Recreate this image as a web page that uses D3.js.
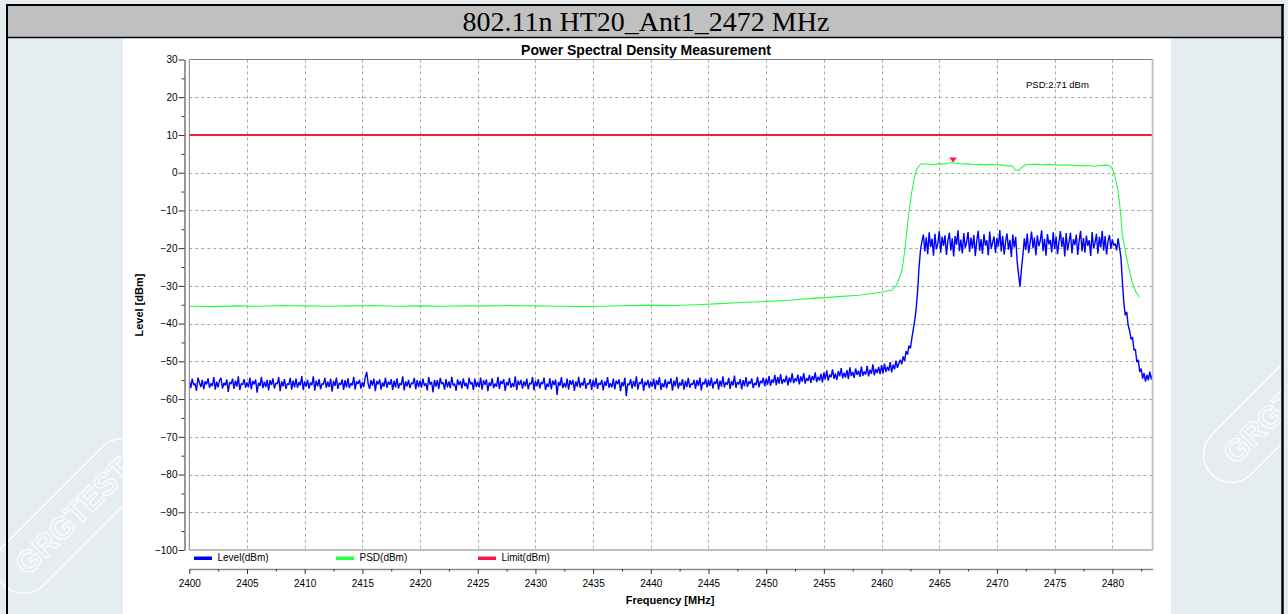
<!DOCTYPE html>
<html>
<head>
<meta charset="utf-8">
<script src="https://cdn.jsdelivr.net/npm/d3@7"></script>
<style>
  html, body { margin: 0; padding: 0; background: #e5edf0; }
  svg { display: block; }
  text { font-family: "Liberation Sans", Arial, sans-serif; }
</style>
</head>
<body>
<div id="chart"></div>
<script>
// ---------------- data ----------------
const headerTitle = "802.11n HT20_Ant1_2472 MHz";
const chartTitle = "Power Spectral Density Measurement";
const xLabel = "Frequency [MHz]";
const yLabel = "Level [dBm]";

const xTickValues = [2400,2405,2410,2415,2420,2425,2430,2435,2440,2445,2450,2455,2460,2465,2470,2475,2480];
const yTickValues = [-100,-90,-80,-70,-60,-50,-40,-30,-20,-10,0,10,20,30];
const xDomain = [2400, 2483.5];
const yDomain = [-100, 30];

const seriesNames = ["Level(dBm)", "PSD(dBm)", "Limit(dBm)"];
const seriesColors = ["#0000ff", "#22ff44", "#ff1446"];

// Level trace (blue): sampled every 0.125 MHz starting at 2400 MHz (one row = 5 MHz)
const levelStart = 2400;
const levelStep = 0.125;
const levelValues = [
  -55.2,-57.1,-54.6,-56.3,-55.9,-57.8,-54.3,-55.6,-56.8,-54.9,-57.4,-55.3,-56.1,-54.5,-57.0,-55.8,-56.6,-54.2,-57.5,-55.4,-56.9,-55.0,-54.4,-57.2,-55.7,-56.4,-54.8,-58.1,-55.5,-56.0,-54.6,-57.3,-55.1,-56.7,-54.0,-57.6,-55.9,-56.2,-54.7,-57.0,
  -55.6,-56.9,-54.3,-57.4,-55.2,-56.1,-54.8,-58.3,-55.7,-56.5,-54.1,-57.1,-55.4,-56.8,-54.9,-57.7,-55.0,-56.3,-54.5,-57.2,-55.8,-56.0,-54.2,-57.9,-55.3,-56.6,-54.7,-57.3,-55.9,-56.2,-54.4,-57.5,-55.1,-56.9,-54.6,-57.0,-55.5,-56.4,-53.9,-57.6,
  -55.3,-56.7,-54.9,-57.2,-55.6,-56.3,-54.0,-57.8,-55.1,-56.6,-54.7,-57.4,-55.9,-56.1,-54.4,-57.0,-55.4,-56.8,-54.6,-58.0,-55.2,-56.5,-54.3,-57.3,-55.7,-56.2,-54.8,-57.6,-55.0,-56.9,-54.5,-57.1,-55.8,-56.4,-54.1,-57.5,-55.3,-56.0,-54.9,-57.2,
  -55.5,-56.8,-54.2,-52.8,-55.9,-57.3,-55.0,-56.4,-54.6,-57.9,-55.2,-56.1,-54.8,-57.5,-55.6,-56.7,-54.3,-57.0,-55.4,-56.2,-54.7,-57.6,-55.1,-56.9,-54.5,-57.2,-55.8,-56.3,-54.0,-57.7,-55.3,-56.6,-54.9,-57.1,-55.7,-56.0,-54.4,-57.4,-55.0,-56.8,
  -55.1,-57.0,-54.6,-56.5,-55.8,-57.7,-54.2,-56.2,-55.4,-58.2,-54.9,-56.7,-55.0,-57.3,-54.4,-56.0,-55.6,-57.5,-54.7,-56.9,-55.3,-57.1,-54.1,-56.4,-55.9,-57.8,-54.8,-56.3,-55.2,-57.2,-54.5,-56.6,-55.7,-57.4,-54.3,-56.1,-55.5,-57.6,-54.6,-56.8,
  -55.4,-56.9,-54.3,-57.5,-55.0,-56.2,-54.8,-57.9,-55.6,-56.5,-54.5,-57.1,-55.9,-56.7,-54.1,-57.3,-55.2,-56.0,-54.7,-57.8,-55.5,-56.4,-54.4,-57.0,-55.8,-56.8,-54.0,-57.6,-55.1,-56.3,-54.9,-57.2,-55.3,-56.6,-54.6,-57.4,-55.7,-56.1,-54.2,-57.7,
  -55.2,-56.6,-54.7,-57.2,-55.5,-56.0,-54.3,-57.6,-55.9,-56.8,-54.5,-57.4,-55.1,-56.3,-54.8,-58.9,-55.4,-56.5,-54.2,-57.1,-55.7,-56.9,-54.6,-57.5,-55.0,-56.2,-54.9,-57.8,-55.3,-56.7,-54.1,-57.0,-55.6,-56.4,-54.4,-57.3,-55.8,-56.1,-54.7,-57.6,
  -55.0,-56.8,-54.4,-57.3,-55.7,-56.2,-54.9,-57.7,-55.3,-56.5,-54.2,-57.0,-55.8,-56.9,-54.6,-57.4,-55.1,-56.1,-54.8,-57.9,-55.5,-56.6,-54.3,-59.2,-55.9,-56.3,-54.7,-57.2,-55.2,-56.7,-54.0,-57.5,-55.6,-56.0,-54.5,-57.8,-55.4,-56.4,-54.9,-57.1,
  -55.3,-56.7,-54.6,-57.4,-55.0,-56.3,-54.2,-57.6,-55.8,-56.9,-54.8,-57.1,-55.4,-56.0,-54.5,-57.8,-55.1,-56.6,-54.1,-57.2,-55.6,-56.4,-54.7,-57.5,-55.2,-56.8,-54.4,-57.0,-55.9,-56.2,-54.9,-57.3,-55.0,-56.5,-54.3,-57.7,-55.5,-56.1,-54.6,-56.9,
  -55.0,-56.5,-54.3,-57.2,-55.4,-56.0,-54.6,-57.5,-55.1,-56.7,-54.0,-56.9,-55.6,-56.2,-54.4,-57.3,-55.2,-56.4,-53.8,-57.0,-55.5,-56.1,-54.7,-57.4,-55.0,-56.6,-54.2,-56.8,-55.3,-56.0,-54.5,-57.1,-55.7,-56.3,-54.1,-56.9,-55.2,-55.8,-54.3,-56.6,
  -54.6,-56.2,-53.9,-56.5,-54.8,-55.7,-53.6,-56.3,-54.2,-55.9,-53.4,-56.0,-54.7,-55.5,-53.8,-56.4,-54.3,-55.6,-53.2,-55.8,-54.5,-55.3,-53.5,-56.1,-54.0,-55.4,-53.1,-55.9,-54.4,-55.2,-53.6,-55.7,-53.9,-55.0,-52.9,-55.5,-54.1,-55.1,-53.3,-55.6,
  -53.0,-54.8,-52.4,-55.1,-53.5,-54.2,-52.1,-54.6,-53.2,-54.9,-52.6,-54.0,-51.8,-54.5,-53.0,-54.3,-52.3,-54.7,-51.6,-53.9,-52.8,-54.4,-51.9,-53.6,-52.5,-54.1,-51.4,-53.8,-52.7,-53.5,-51.2,-54.0,-52.2,-53.3,-50.8,-53.7,-52.0,-53.1,-51.5,-53.4,
  -51.0,-53.2,-50.6,-52.8,-51.4,-52.5,-50.2,-52.9,-50.9,-52.1,-49.8,-51.7,-50.5,
  -49.6,-50.8,-48.7,-49.9,-47.3,-48.2,-45.8,-46.6,-43.9,-41.5,-39.2,-36.0,-31.5,-25.0,-20.5,
  -18.2,-16.4,-20.9,-17.1,-21.6,-15.8,-19.7,-17.5,-22.0,-16.2,-20.3,-18.8,-15.5,-21.2,-17.0,-19.4,-16.6,-21.8,-18.1,-15.9,
  -20.6,-17.4,-22.2,-16.8,-19.1,-15.3,-20.8,-17.7,-21.4,-16.0,-19.9,-18.4,-15.7,-21.0,-17.2,-20.1,-16.5,-22.1,-18.0,-15.4,
  -20.7,-17.6,-21.5,-16.3,-19.3,-17.9,-21.9,-15.6,-20.2,-18.5,-16.9,-21.3,-17.3,-19.6,-15.2,-20.9,-16.7,-21.7,-18.3,-16.1,
  -20.4,-17.8,-22.3,-16.4,-19.8,-17.0,
  -23.5,-27.0,-30.2,-25.5,-21.8,
  -17.4,-20.5,-16.1,-21.3,-18.6,-15.6,-20.0,-17.2,-21.9,-16.6,-19.5,-18.1,-15.3,-20.8,-17.5,-22.0,-16.3,-19.0,-17.8,-21.1,
  -15.8,-20.3,-16.9,-21.6,-18.4,-15.5,-19.7,-17.1,-22.2,-16.0,-20.6,-18.3,-15.9,-21.4,-17.6,-19.2,-16.4,-21.8,-18.0,-15.4,
  -20.9,-17.3,-21.2,-16.7,-19.4,-17.9,-22.1,-15.7,-20.1,-18.6,-16.2,-21.5,-17.0,-19.8,-15.5,-20.7,-16.8,-21.7,-18.2,-16.5,
  -20.2,-17.7,-19.3,-18.8,-20.6,-17.4,-19.9,
  -22.5,-29.0,-34.5,-37.8,-36.9,-40.5,-41.9,-44.2,-43.6,-47.0,-46.8,-50.2,-49.6,-52.8,-51.9,-54.6,-53.1,-55.4,-53.6,-55.0,-52.7,-54.8,-53.5
];

// PSD trace (green)
const psdFreq = [2400,2402,2404,2406,2408,2410,2412,2414,2416,2418,2420,2422,2424,2426,2428,2430,2432,2434,2436,2438,2440,2442,2444,2446,2448,2450,2452,2454,2456,2458,2460,
  2460.9,2461.25,2461.5,2461.77,2462.0,2462.2,2462.4,2462.6,2462.8,2463.0,2463.4,
  2464,2464.5,2465,2465.5,2466,2466.5,2467,2467.5,2468,2468.5,2469,2469.5,2470,2470.5,2471,
  2471.3,2471.6,2471.9,2472.2,2472.5,
  2473,2473.5,2474,2474.5,2475,2475.5,2476,2476.5,2477,2477.5,2478,2478.5,2479,2479.5,
  2479.8,2480.0,2480.2,2480.45,2480.6,2480.75,2480.85,2481.15,2481.45,2481.75,2482.05,2482.32];
const psdValues = [-35.4,-35.5,-35.3,-35.4,-35.2,-35.3,-35.4,-35.3,-35.2,-35.4,-35.3,-35.4,-35.3,-35.3,-35.2,-35.3,-35.4,-35.5,-35.4,-35.2,-35.1,-35.2,-35.0,-34.7,-34.4,-34.1,-33.8,-33.3,-32.9,-32.5,-31.7,
  -31.1,-30.0,-28.3,-25.8,-21.0,-15.2,-9.9,-5.5,-2.0,0.7,2.3,
  2.3,2.1,2.4,2.3,2.7,2.5,2.3,2.4,2.1,2.2,2.0,2.2,2.1,2.0,1.8,
  1.9,0.7,0.6,1.5,2.1,
  2.2,2.2,2.1,2.2,2.1,2.0,2.1,2.0,1.9,1.8,1.9,1.7,1.9,2.0,
  1.8,1.0,-0.8,-4.0,-7.2,-12.0,-16.0,-21.4,-25.5,-29.3,-31.6,-32.9];

const limitValue = 10;
const markerFreq = 2466.2;
const markerValue = 2.71;
const markerLabel = "PSD:2.71 dBm";
const watermarkText = "GRGTEST";

// ---------------- drawing ----------------
const W = 1288, H = 614;
const svg = d3.select("#chart").append("svg").attr("width", W).attr("height", H);

// background
svg.append("rect").attr("x", 0).attr("y", 0).attr("width", W).attr("height", H).attr("fill", "#e5edf0");

// watermarks (clipped by the page like in the scanned report)
svg.append("clipPath").attr("id", "pageclip").append("rect").attr("x", 0).attr("y", 0).attr("width", 1282).attr("height", H);
function watermark(cx, cy) {
  const g = svg.append("g").attr("clip-path", "url(#pageclip)")
    .append("g").attr("transform", `translate(${cx},${cy}) rotate(-45)`);
  g.append("rect").attr("x", -98).attr("y", -28).attr("width", 196).attr("height", 56).attr("rx", 28)
    .attr("fill", "none").attr("stroke", "#ffffff").attr("stroke-width", 1.3);
  g.append("text").attr("x", 0).attr("y", 11).attr("text-anchor", "middle")
    .style("font-size", "31px").style("font-weight", "bold")
    .attr("fill", "none").attr("stroke", "#ffffff").attr("stroke-width", 1.1)
    .text(watermarkText);
}
watermark(73, 516);
watermark(1281, 405);

// table header
svg.append("rect").attr("x", 7).attr("y", 5).attr("width", 1275).attr("height", 32).attr("fill", "#c0c0c0");
svg.append("text").attr("x", 646).attr("y", 30.5).attr("text-anchor", "middle")
  .style("font-family", "'Liberation Serif','Times New Roman',serif").style("font-size", "28px")
  .attr("fill", "#000").text(headerTitle);

// white chart area
svg.append("rect").attr("x", 123).attr("y", 38).attr("width", 1048).attr("height", H - 38).attr("fill", "#ffffff");

// table borders
svg.append("line").attr("x1", 6).attr("x2", 1284).attr("y1", 5).attr("y2", 5).attr("stroke", "#000").attr("stroke-width", 2);
svg.append("line").attr("x1", 6).attr("x2", 1284).attr("y1", 37.5).attr("y2", 37.5).attr("stroke", "#000").attr("stroke-width", 1.6);
svg.append("line").attr("x1", 7).attr("x2", 7).attr("y1", 4).attr("y2", H).attr("stroke", "#000").attr("stroke-width", 2);
svg.append("line").attr("x1", 1282.5).attr("x2", 1282.5).attr("y1", 4).attr("y2", H).attr("stroke", "#000").attr("stroke-width", 2.5);

// scales
const plotL = 189.3, plotR = 1152.7, plotT = 59.5, plotB = 550;
const x = d3.scaleLinear().domain(xDomain).range([plotL, plotR]);
const y = d3.scaleLinear().domain(yDomain).range([plotB, plotT]);

// title
svg.append("text").attr("x", 646).attr("y", 55).attr("text-anchor", "middle")
  .style("font-size", "14px").style("font-weight", "bold").attr("fill", "#000").text(chartTitle);

// grid
const grid = svg.append("g").attr("stroke", "#a8a8a8").attr("stroke-width", 1).attr("stroke-dasharray", "3,3");
grid.selectAll("line.h").data(yTickValues.filter(v => v > yDomain[0] && v < yDomain[1])).join("line")
  .attr("x1", plotL).attr("x2", plotR).attr("y1", d => Math.round(y(d)) + 0.5).attr("y2", d => Math.round(y(d)) + 0.5);
grid.selectAll("line.v").data(xTickValues.filter(v => v > xDomain[0] && v < xDomain[1])).join("line")
  .attr("y1", plotT).attr("y2", plotB).attr("x1", d => Math.round(x(d)) + 0.5).attr("x2", d => Math.round(x(d)) + 0.5);

// clip
svg.append("clipPath").attr("id", "plotclip").append("rect")
  .attr("x", plotL).attr("y", plotT).attr("width", plotR - plotL).attr("height", plotB - plotT);
const plot = svg.append("g").attr("clip-path", "url(#plotclip)");

// level series
const levelData = levelValues.map((v, i) => ({ f: levelStart + i * levelStep, v }));
const line = d3.line().x(d => x(d.f)).y(d => y(d.v));
plot.append("path").datum(levelData).attr("d", line)
  .attr("fill", "none").attr("stroke", seriesColors[0]).attr("stroke-width", 1.4).attr("stroke-linejoin", "bevel");

// psd series
const psdData = psdFreq.map((f, i) => ({ f, v: psdValues[i] }));
plot.append("path").datum(psdData).attr("d", line)
  .attr("fill", "none").attr("stroke", seriesColors[1]).attr("stroke-width", 1.1);

// limit
plot.append("line").attr("x1", x(xDomain[0])).attr("x2", x(xDomain[1]))
  .attr("y1", y(limitValue)).attr("y2", y(limitValue))
  .attr("stroke", seriesColors[2]).attr("stroke-width", 2);

// marker
const mx = x(markerFreq), my = y(markerValue);
svg.append("path").attr("d", `M${mx - 3.8},${my - 5} L${mx + 3.8},${my - 5} L${mx},${my} Z`).attr("fill", "#ff1446");
svg.append("text").attr("x", 1026).attr("y", 88).style("font-size", "9.5px").attr("fill", "#000").text(markerLabel);

// frame
svg.append("line").attr("x1", plotL).attr("x2", plotL).attr("y1", plotT).attr("y2", plotB).attr("stroke", "#808080");
svg.append("line").attr("x1", plotL).attr("x2", plotR).attr("y1", plotT).attr("y2", plotT).attr("stroke", "#808080");
svg.append("line").attr("x1", plotL).attr("x2", plotR).attr("y1", plotB).attr("y2", plotB).attr("stroke", "#808080");
svg.append("line").attr("x1", plotR).attr("x2", plotR).attr("y1", plotT).attr("y2", plotB).attr("stroke", "#c4c4c4").attr("stroke-width", 2);

// y axis
const yAxisX = 184.5;
const yAxis = d3.axisLeft(y).tickValues(yTickValues).tickSize(6).tickSizeOuter(0).tickPadding(1);
const gy = svg.append("g").attr("transform", `translate(${yAxisX},0)`).call(yAxis);
gy.select(".domain").attr("stroke", "#333");
gy.selectAll(".tick line").attr("stroke", "#333");
gy.selectAll("text").style("font-size", "10px").attr("fill", "#000");
const yMinor = d3.axisLeft(y).tickValues(yTickValues.slice(0, -1).map(v => v + 5)).tickSize(3).tickSizeOuter(0).tickFormat("");
const gy2 = svg.append("g").attr("transform", `translate(${yAxisX},0)`).call(yMinor);
gy2.select(".domain").remove();
gy2.selectAll(".tick line").attr("stroke", "#333");

// x axis
const xAxisY = 569;
const xAxis = d3.axisBottom(x).tickValues(xTickValues).tickSize(5).tickSizeOuter(0).tickPadding(5.5).tickFormat(d3.format("d"));
const gx = svg.append("g").attr("transform", `translate(0,${xAxisY})`).call(xAxis);
gx.select(".domain").attr("stroke", "#8a8a8a").attr("stroke-width", 1.6);
gx.selectAll(".tick line").attr("stroke", "#333");
gx.selectAll("text").style("font-size", "10px").attr("fill", "#000");
const xMinor = d3.axisBottom(x).tickValues(xTickValues.map(v => v + 2.5).filter(v => v < xDomain[1])).tickSize(2.5).tickSizeOuter(0).tickFormat("");
const gx2 = svg.append("g").attr("transform", `translate(0,${xAxisY})`).call(xMinor);
gx2.select(".domain").remove();
gx2.selectAll(".tick line").attr("stroke", "#333");

// axis labels
svg.append("text").attr("x", 670).attr("y", 604).attr("text-anchor", "middle")
  .style("font-size", "11px").style("font-weight", "bold").attr("fill", "#000").text(xLabel);
svg.append("text").attr("transform", `translate(143,305) rotate(-90)`).attr("text-anchor", "middle")
  .style("font-size", "11px").style("font-weight", "bold").attr("fill", "#000").text(yLabel);

// legend
const legendX = [194, 336, 478];
const legend = svg.append("g");
seriesNames.forEach((name, i) => {
  legend.append("rect").attr("x", legendX[i]).attr("y", 556.5).attr("width", 18).attr("height", 3.5).attr("fill", seriesColors[i]);
  legend.append("text").attr("x", legendX[i] + 23.5).attr("y", 561).style("font-size", "10px").attr("fill", "#000").text(name);
});
</script>
</body>
</html>
